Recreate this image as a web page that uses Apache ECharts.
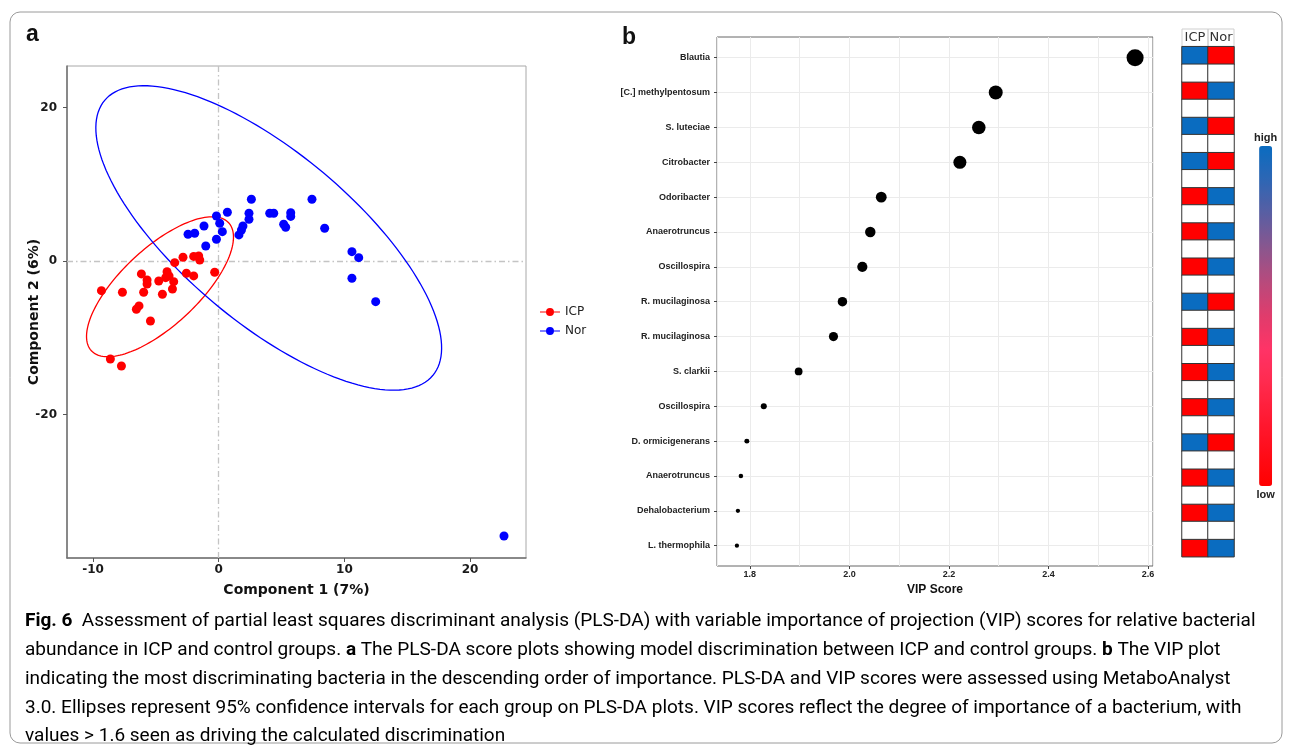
<!DOCTYPE html>
<html>
<head>
<meta charset="utf-8">
<script src="https://cdn.jsdelivr.net/npm/echarts@6/dist/echarts.min.js"></script>
<style>html,body{margin:0;padding:0;background:#fff;}#c{width:1293px;height:747px;}</style>
</head>
<body>
<div id="c"></div>
<script>
// ---------- Panel a: PLS-DA scores ----------
const icpX = [-9.33,-7.66,-6.15,-5.70,-5.70,-5.97,-6.34,-6.55,-5.43,-4.77,-4.48,-4.11,-3.95,-4.22,-3.58,-3.68,-3.50,-2.84,-2.57,-1.99,-1.99,-1.59,-1.51,-0.32,-8.62,-7.74];
const icpY = [-3.87,-4.08,-1.69,-2.48,-3.00,-4.08,-5.86,-6.29,-7.82,-2.61,-4.34,-1.39,-1.95,-2.18,-2.70,-3.65,-0.22,0.48,-1.60,-1.95,0.59,0.65,0.13,-1.47,-12.77,-13.68];
const norX = [2.60,0.69,-0.18,0.08,0.29,-0.18,-1.17,-1.91,-2.44,-1.03,2.41,2.41,1.93,1.81,1.61,4.06,4.38,5.73,5.73,5.17,5.33,7.42,8.43,10.60,11.14,10.60,12.49,22.70];
const norY = [8.04,6.35,5.86,4.91,3.82,2.83,4.56,3.61,3.48,1.95,6.21,5.43,4.56,4.04,3.39,6.21,6.21,6.29,5.80,4.78,4.39,8.04,4.26,1.21,0.43,-2.25,-5.30,-35.83];
// 95% ellipses: [centerX, centerY, axis1X, axis1Y, axis2X, axis2Y] (conjugate semi-diameters, data units)
const icpEllipse = [-4.67, -3.36, 5.46, 8.34, 2.09, -3.68];
const norEllipse = [3.98, 3.00, 13.05, -17.93, -4.35, -8.48];
const groups = ['ICP', 'Nor'];

// ---------- Panel b: VIP scores ----------
const bacteria = ['Blautia','[C.] methylpentosum','S. luteciae','Citrobacter','Odoribacter','Anaerotruncus','Oscillospira','R. mucilaginosa','R. mucilaginosa','S. clarkii','Oscillospira','D. ormicigenerans','Anaerotruncus','Dehalobacterium','L. thermophila'];
const vipScores = [2.574,2.294,2.260,2.222,2.064,2.042,2.026,1.986,1.968,1.898,1.828,1.794,1.782,1.776,1.774];
const vipTicks = [1.8, 2.0, 2.2, 2.4, 2.6];
const icpLevel = ['high','low','high','high','low','low','low','high','low','low','low','high','low','low','low'];
const norLevel = ['low','high','low','low','high','high','high','low','high','high','high','low','high','high','high'];

const FONT_A = 'DejaVu Sans';
const FONT_B = 'Liberation Sans';
const FONT_CAP = 'Roboto';

const chart = echarts.init(document.getElementById('c'), null, {renderer: 'canvas'});

function zip(xs, ys) { return xs.map((x, i) => [x, ys[i]]); }
function ellipseSeries(e, color) {
  return {
    type: 'custom', xAxisIndex: 0, yAxisIndex: 0, silent: true, z: 3,
    data: [[e[0], e[1]]],
    renderItem: function (params, api) {
      const pts = [];
      for (let i = 0; i <= 160; i++) {
        const t = i / 160 * 2 * Math.PI;
        pts.push(api.coord([e[0] + Math.cos(t) * e[2] + Math.sin(t) * e[4],
                            e[1] + Math.cos(t) * e[3] + Math.sin(t) * e[5]]));
      }
      return {type: 'polyline', shape: {points: pts}, style: {stroke: color, lineWidth: 1.3, fill: null}};
    }
  };
}

// heatmap rows: colored row for each bacterium, blank row between
const heatRows = [];
for (let i = 0; i < bacteria.length * 2 - 1; i++) heatRows.push('r' + i);
const heatData = [];
const blankData = [];
bacteria.forEach((b, i) => {
  heatData.push([0, i * 2, icpLevel[i] === 'high' ? 1 : 0]);
  heatData.push([1, i * 2, norLevel[i] === 'high' ? 1 : 0]);
  if (i < bacteria.length - 1) { blankData.push([0, i * 2 + 1, 0]); blankData.push([1, i * 2 + 1, 0]); }
});

const captionColor = '#231f20';
const capRich = {
  n: {fontFamily: FONT_CAP, fontSize: 19, color: captionColor},
  b: {fontFamily: FONT_CAP, fontSize: 19, fontWeight: 'bold', color: captionColor}
};
const captionLines = [
  '{b|Fig. 6}{n|  Assessment of partial least squares discriminant analysis (PLS-DA) with variable importance of projection (VIP) scores for relative bacterial}',
  '{n|abundance in ICP and control groups. }{b|a}{n| The PLS-DA score plots showing model discrimination between ICP and control groups. }{b|b}{n| The VIP plot}',
  '{n|indicating the most discriminating bacteria in the descending order of importance. PLS-DA and VIP scores were assessed using MetaboAnalyst}',
  '{n|3.0. Ellipses represent 95% confidence intervals for each group on PLS-DA plots. VIP scores reflect the degree of importance of a bacterium, with}',
  '{n|values > 1.6 seen as driving the calculated discrimination}'
];
const captionY = [621, 650, 679, 708, 736];

const graphics = [
  {type: 'rect', shape: {x: 10, y: 12, width: 1272, height: 731, r: 10}, style: {fill: null, stroke: '#9a9a9a', lineWidth: 1}, silent: true},
  {type: 'text', x: 26, y: 35, style: {text: 'a', font: 'bold 23px "Liberation Sans"', fill: '#111', verticalAlign: 'middle'}},
  {type: 'text', x: 622, y: 38, style: {text: 'b', font: 'bold 23px "Liberation Sans"', fill: '#111', verticalAlign: 'middle'}},
  {type: 'rect', shape: {x: 1182, y: 29, width: 26, height: 17.7}, style: {fill: null, stroke: '#cfcfcf', lineWidth: 1}, silent: true},
  {type: 'rect', shape: {x: 1208, y: 29, width: 26, height: 17.7}, style: {fill: null, stroke: '#cfcfcf', lineWidth: 1}, silent: true}
];
captionLines.forEach((t, i) => {
  graphics.push({type: 'text', x: 25, y: captionY[i], style: {text: t, rich: capRich, verticalAlign: 'middle', align: 'left'}});
});

const option = {
  animation: false,
  backgroundColor: '#fff',
  graphic: graphics,
  grid: [
    {left: 67, top: 66, width: 459, height: 492, show: true, borderColor: '#a8a8a8', borderWidth: 1},
    {left: 717, top: 57.7, width: 436, height: 488},
    {left: 717, top: 37, width: 436, height: 529, show: true, borderColor: '#666', borderWidth: 1},
    {left: 1182, top: 46.7, width: 52, height: 510}
  ],
  legend: {
    data: groups, orient: 'vertical', left: 535, top: 301, itemGap: 7,
    itemWidth: 20, itemHeight: 10,
    icon: 'path://M0,4.4L20,4.4L20,5.6L0,5.6Z M10,1A4,4,0,1,1,9.99,1Z',
    textStyle: {fontFamily: FONT_A, fontSize: 12, color: '#222'},
    selectedMode: false
  },
  visualMap: {
    type: 'continuous', min: 0, max: 1, seriesIndex: 4,
    orient: 'vertical', left: 1254, top: 132, itemWidth: 13, itemHeight: 340,
    text: ['high', 'low'], textGap: 3, padding: 0, calculable: false, hoverLink: false,
    textStyle: {fontFamily: FONT_B, fontSize: 11, fontWeight: 'bold', color: '#222'},
    inRange: {color: ['#ff0000','#ff0d1a','#ff1a33','#ff2a4d','#ff3366','#e03c6c','#b84a7c','#8a568e','#5a5ea2','#2e66b4','#0a6cc0']}
  },
  xAxis: [
    { // 0 panel a
      gridIndex: 0, type: 'value', min: -12.07, max: 24.45, splitNumber: 4,
      name: 'Component 1 (7%)', nameLocation: 'middle', nameGap: 25,
      nameTextStyle: {fontFamily: FONT_A, fontSize: 14, fontWeight: 'bold', color: '#111'},
      axisLine: {show: true, onZero: false, lineStyle: {color: '#707070', width: 1.5}},
      axisTick: {show: true, length: 4, lineStyle: {color: '#555'}},
      axisLabel: {fontFamily: FONT_A, fontSize: 12, fontWeight: 'bold', color: '#1a1a1a', margin: 6, showMinLabel: false, showMaxLabel: false},
      splitLine: {show: false}
    },
    { // 1 panel b points
      gridIndex: 1, type: 'value', min: 1.734, max: 2.61, show: false, splitLine: {show: false}
    },
    { // 2 panel b frame gridlines
      gridIndex: 2, type: 'value', min: 1.734, max: 2.61, splitNumber: 9, position: 'bottom',
      axisLine: {show: false}, axisTick: {show: false}, axisLabel: {show: false},
      splitLine: {show: true, lineStyle: {color: '#ebebeb', width: 1}}
    },
    { // 3 panel b labels
      gridIndex: 2, type: 'value', min: 1.734, max: 2.61, splitNumber: 9, position: 'bottom', offset: 0,
      name: 'VIP Score', nameLocation: 'middle', nameGap: 17,
      nameTextStyle: {fontFamily: FONT_B, fontSize: 12, fontWeight: 'bold', color: '#111'},
      axisLine: {show: false},
      axisTick: {show: true, length: 3, customValues: vipTicks, lineStyle: {color: '#444'}},
      axisLabel: {customValues: vipTicks, fontFamily: FONT_B, fontSize: 9, fontWeight: 'bold', color: '#222', margin: 4,
                  formatter: v => v.toFixed(1)},
      splitLine: {show: false}
    },
    { // 4 heatmap
      gridIndex: 3, type: 'category', data: groups, position: 'top',
      axisLine: {show: false}, axisTick: {show: false},
      axisLabel: {fontFamily: FONT_A, fontSize: 13, color: '#333', margin: 3, interval: 0},
      splitLine: {show: false}
    }
  ],
  yAxis: [
    { // 0 panel a
      gridIndex: 0, type: 'value', min: -38.7, max: 25.4, splitNumber: 3,
      name: 'Component 2 (6%)', nameLocation: 'middle', nameGap: 26, nameRotate: 90, nameMoveOverlap: false,
      nameTextStyle: {fontFamily: FONT_A, fontSize: 14, fontWeight: 'bold', color: '#111'},
      axisLine: {show: true, onZero: false, lineStyle: {color: '#707070', width: 1.5}},
      axisTick: {show: true, length: 4, lineStyle: {color: '#555'}},
      axisLabel: {fontFamily: FONT_A, fontSize: 12, fontWeight: 'bold', color: '#1a1a1a', margin: 10, showMinLabel: false, showMaxLabel: false},
      splitLine: {show: false}
    },
    { // 1 panel b categories
      gridIndex: 1, type: 'category', data: bacteria, inverse: true, boundaryGap: false,
      axisLine: {show: false},
      axisTick: {show: true, length: 3, lineStyle: {color: '#444'}},
      axisLabel: {fontFamily: FONT_B, fontSize: 9, fontWeight: 'bold', color: '#222', margin: 7, interval: 0},
      splitLine: {show: true, interval: 0, lineStyle: {color: '#ebebeb', width: 1}}
    },
    { // 2 frame
      gridIndex: 2, type: 'value', min: 0, max: 1, show: false, splitLine: {show: false}
    },
    { // 3 heatmap rows
      gridIndex: 3, type: 'category', data: heatRows, inverse: true, show: false
    }
  ],
  series: [
    ellipseSeries(icpEllipse, '#ff0000'),
    ellipseSeries(norEllipse, '#0000ff'),
    {
      name: 'ICP', type: 'scatter', xAxisIndex: 0, yAxisIndex: 0, symbolSize: 9, z: 4,
      itemStyle: {color: '#ff0000', opacity: 1},
      data: zip(icpX, icpY),
      markLine: {
        silent: true, symbol: ['none', 'none'], label: {show: false}, z: 1,
        lineStyle: {color: '#c4c4c4', type: [6, 3, 1.5, 3], width: 1.3},
        data: [{xAxis: 0}, {yAxis: 0}]
      }
    },
    {
      name: 'Nor', type: 'scatter', xAxisIndex: 0, yAxisIndex: 0, symbolSize: 9, z: 4,
      itemStyle: {color: '#0000ff', opacity: 1},
      data: zip(norX, norY)
    },
    {
      name: 'level', type: 'heatmap', xAxisIndex: 4, yAxisIndex: 3,
      data: heatData,
      itemStyle: {borderColor: '#333', borderWidth: 1}
    },
    {
      name: 'blank', type: 'heatmap', xAxisIndex: 4, yAxisIndex: 3,
      data: blankData,
      itemStyle: {color: '#ffffff', borderColor: '#333', borderWidth: 1}
    },
    {
      name: 'VIP', type: 'scatter', xAxisIndex: 1, yAxisIndex: 1,
      data: vipScores.map((v, i) => [v, i]),
      symbolSize: d => Math.sqrt(18 + (d[0] - 1.774) * 340),
      itemStyle: {color: '#000', opacity: 1}
    }
  ]
};
chart.setOption(option);
</script>
</body>
</html>
